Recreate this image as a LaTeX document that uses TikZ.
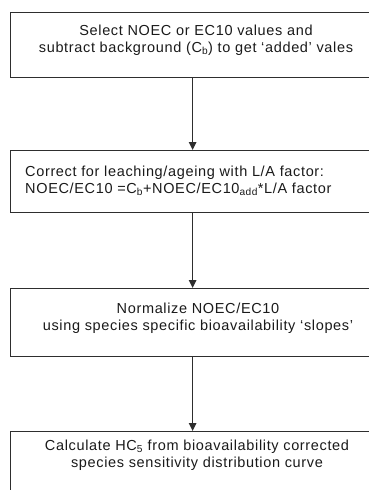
\documentclass[tikz,border=0pt]{standalone}
\usepackage{fontspec}
\setmainfont{Liberation Sans}[LetterSpace=4.5]
\usetikzlibrary{arrows.meta}
\definecolor{ink}{HTML}{1A1A1A}
\definecolor{edge}{HTML}{2E2E2E}
\tikzset{
  box/.style={draw=edge, line width=1.2pt, rectangle, minimum width=372pt, anchor=north west, inner sep=0pt},
  txt/.style={text=ink, font=\fontsize{14.5}{17}\selectfont, inner sep=0pt},
  arr/.style={draw=edge, line width=1.1pt, -{Triangle[length=8pt,width=7.5pt]}}
}
\begin{document}
\begin{tikzpicture}[x=1pt,y=1pt]
\useasboundingbox (0,0) rectangle (369,-490);
\node[box, minimum height=65pt] (b1) at (10,-12) {};
\node[box, minimum height=62pt] (b2) at (10,-150) {};
\node[box, minimum height=68pt] (b3) at (10,-288) {};
\node[box, minimum height=80pt] (b4) at (10,-431) {};
\node[txt, align=center] (t1) at (196,-40) {Select NOEC or EC10 values and\\subtract background (C\textsubscript{b}) to get ‘added’ vales};
\node[txt, align=left, anchor=west] (t2) at (25,-180.5) {Correct for leaching/ageing with L/A factor:\\NOEC/EC10 =C\textsubscript{b}+NOEC/EC10\textsubscript{add}*L/A factor};
\node[txt, align=center] (t3) at (198,-318.5) {Normalize NOEC/EC10\\using species specific bioavailability ‘slopes’};
\node[txt, align=center] (t4) at (197,-455) {Calculate HC\textsubscript{5} from bioavailability corrected\\species sensitivity distribution curve};
\draw[arr] ([xshift=-4pt]b1.south) -- ([xshift=-4pt]b2.north);
\draw[arr] ([xshift=-4pt]b2.south) -- ([xshift=-4pt]b3.north);
\draw[arr] ([xshift=-4pt]b3.south) -- ([xshift=-4pt]b4.north);
\end{tikzpicture}
\end{document}
